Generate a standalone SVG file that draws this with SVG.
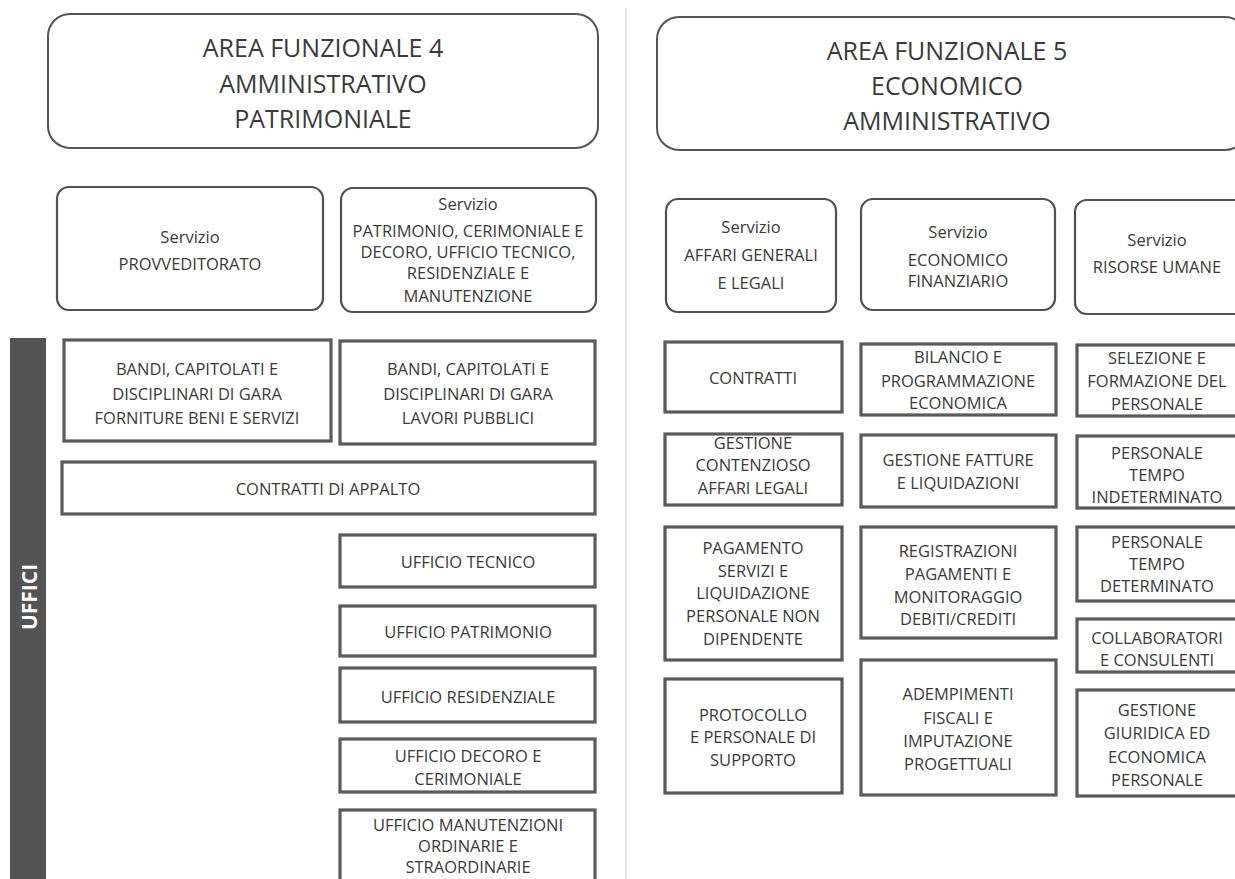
<svg xmlns="http://www.w3.org/2000/svg" width="1235" height="879" viewBox="0 0 1235 879">
<style>
.bg{fill:#ffffff}
.hdr{fill:#fff;stroke:#555;stroke-width:2}
.svc{fill:#fff;stroke:#505050;stroke-width:2.2}
.off{fill:#fff;stroke:#5a5a5a;stroke-width:3.2}
text{font-family:"Open Sans","Liberation Sans",sans-serif;fill:#3a3a3a;text-anchor:middle;dominant-baseline:central}
.h{font-size:25px}
.s{font-size:16.5px}
.o{font-size:16.5px}
.uf{font-size:21px;font-weight:bold;fill:#fff}
</style>
<rect class="bg" x="0" y="0" width="1235" height="879"/>
<line x1="626" y1="8" x2="626" y2="879" stroke="#dcdcdc" stroke-width="1.5"/>

<g id="uffici">
<rect x="10" y="338" width="36" height="541" fill="#545454"/>
<text class="uf" transform="translate(29,597) rotate(-90)">UFFICI</text>
</g>

<g id="area4">
<rect class="hdr" x="48" y="14" width="550" height="134" rx="22"/>
<text class="h" x="323" y="47">AREA FUNZIONALE 4</text>
<text class="h" x="323" y="83">AMMINISTRATIVO</text>
<text class="h" x="323" y="118">PATRIMONIALE</text>
</g>
<g id="area5">
<rect class="hdr" x="657" y="17" width="590" height="133" rx="22"/>
<text class="h" x="947" y="50">AREA FUNZIONALE 5</text>
<text class="h" x="947" y="85">ECONOMICO</text>
<text class="h" x="947" y="120">AMMINISTRATIVO</text>
</g>

<g id="svc-provveditorato">
<rect class="svc" x="57" y="187" width="266" height="123" rx="12"/>
<text class="s" x="190" y="236">Servizio</text>
<text class="s" x="190" y="263">PROVVEDITORATO</text>
</g>
<g id="svc-patrimonio">
<rect class="svc" x="341" y="188" width="255" height="124" rx="12"/>
<text class="s" x="468" y="203">Servizio</text>
<text class="s" x="468" y="230">PATRIMONIO, CERIMONIALE E</text>
<text class="s" x="468" y="251">DECORO, UFFICIO TECNICO,</text>
<text class="s" x="468" y="272">RESIDENZIALE  E</text>
<text class="s" x="468" y="295">MANUTENZIONE</text>
</g>
<g id="svc-affari">
<rect class="svc" x="666" y="199" width="170" height="113" rx="12"/>
<text class="s" x="751" y="226">Servizio</text>
<text class="s" x="751" y="254">AFFARI GENERALI</text>
<text class="s" x="751" y="282">E LEGALI</text>
</g>
<g id="svc-economico">
<rect class="svc" x="861" y="199" width="194" height="111" rx="12"/>
<text class="s" x="958" y="231">Servizio</text>
<text class="s" x="958" y="259">ECONOMICO</text>
<text class="s" x="958" y="280">FINANZIARIO</text>
</g>
<g id="svc-risorse">
<rect class="svc" x="1075" y="200" width="172" height="114" rx="12"/>
<text class="s" x="1157" y="239">Servizio</text>
<text class="s" x="1157" y="266">RISORSE UMANE</text>
</g>

<g id="o-bandi1">
<rect class="off" x="64" y="340" width="267" height="101"/>
<text class="o" x="197" y="368">BANDI, CAPITOLATI E</text>
<text class="o" x="197" y="393">DISCIPLINARI DI GARA</text>
<text class="o" x="197" y="417">FORNITURE BENI E SERVIZI</text>
</g>
<g id="o-bandi2">
<rect class="off" x="340" y="341" width="255" height="103"/>
<text class="o" x="468" y="368">BANDI, CAPITOLATI E</text>
<text class="o" x="468" y="393">DISCIPLINARI DI GARA</text>
<text class="o" x="468" y="417">LAVORI PUBBLICI</text>
</g>
<g id="o-appalto">
<rect class="off" x="62" y="462" width="533" height="52"/>
<text class="o" x="328" y="488">CONTRATTI DI APPALTO</text>
</g>
<g id="o-tecnico">
<rect class="off" x="340" y="535" width="255" height="52"/>
<text class="o" x="468" y="561">UFFICIO TECNICO</text>
</g>
<g id="o-patrimonio">
<rect class="off" x="340" y="606" width="255" height="50"/>
<text class="o" x="468" y="631">UFFICIO PATRIMONIO</text>
</g>
<g id="o-residenziale">
<rect class="off" x="340" y="668" width="255" height="54"/>
<text class="o" x="468" y="696">UFFICIO RESIDENZIALE</text>
</g>
<g id="o-decoro">
<rect class="off" x="340" y="739" width="255" height="53"/>
<text class="o" x="468" y="755">UFFICIO DECORO E</text>
<text class="o" x="468" y="778">CERIMONIALE</text>
</g>
<g id="o-manutenzioni">
<rect class="off" x="340" y="810" width="255" height="80"/>
<text class="o" x="468" y="824">UFFICIO MANUTENZIONI</text>
<text class="o" x="468" y="845">ORDINARIE E</text>
<text class="o" x="468" y="866">STRAORDINARIE</text>
</g>

<g id="o-contratti">
<rect class="off" x="665" y="342" width="177" height="70"/>
<text class="o" x="753" y="377">CONTRATTI</text>
</g>
<g id="o-contenzioso">
<rect class="off" x="665" y="434" width="177" height="71"/>
<text class="o" x="753" y="442">GESTIONE</text>
<text class="o" x="753" y="464">CONTENZIOSO</text>
<text class="o" x="753" y="487">AFFARI LEGALI</text>
</g>
<g id="o-pagamento">
<rect class="off" x="665" y="527" width="177" height="133"/>
<text class="o" x="753" y="547">PAGAMENTO</text>
<text class="o" x="753" y="570">SERVIZI E</text>
<text class="o" x="753" y="592">LIQUIDAZIONE</text>
<text class="o" x="753" y="615">PERSONALE NON</text>
<text class="o" x="753" y="638">DIPENDENTE</text>
</g>
<g id="o-protocollo">
<rect class="off" x="665" y="679" width="177" height="114"/>
<text class="o" x="753" y="714">PROTOCOLLO</text>
<text class="o" x="753" y="736">E PERSONALE DI</text>
<text class="o" x="753" y="759">SUPPORTO</text>
</g>

<g id="o-bilancio">
<rect class="off" x="861" y="344" width="195" height="71"/>
<text class="o" x="958" y="356">BILANCIO E</text>
<text class="o" x="958" y="380">PROGRAMMAZIONE</text>
<text class="o" x="958" y="402">ECONOMICA</text>
</g>
<g id="o-fatture">
<rect class="off" x="861" y="435" width="195" height="72"/>
<text class="o" x="958" y="459">GESTIONE FATTURE</text>
<text class="o" x="958" y="482">E LIQUIDAZIONI</text>
</g>
<g id="o-registrazioni">
<rect class="off" x="861" y="527" width="195" height="111"/>
<text class="o" x="958" y="550">REGISTRAZIONI</text>
<text class="o" x="958" y="573">PAGAMENTI E</text>
<text class="o" x="958" y="596">MONITORAGGIO</text>
<text class="o" x="958" y="618">DEBITI/CREDITI</text>
</g>
<g id="o-adempimenti">
<rect class="off" x="861" y="660" width="195" height="135"/>
<text class="o" x="958" y="693">ADEMPIMENTI</text>
<text class="o" x="958" y="717">FISCALI E</text>
<text class="o" x="958" y="740">IMPUTAZIONE</text>
<text class="o" x="958" y="763">PROGETTUALI</text>
</g>

<g id="o-selezione">
<rect class="off" x="1077" y="345" width="170" height="71"/>
<text class="o" x="1157" y="357">SELEZIONE E</text>
<text class="o" x="1157" y="380">FORMAZIONE DEL</text>
<text class="o" x="1157" y="403">PERSONALE</text>
</g>
<g id="o-indeterminato">
<rect class="off" x="1077" y="436" width="170" height="72"/>
<text class="o" x="1157" y="452">PERSONALE</text>
<text class="o" x="1157" y="474">TEMPO</text>
<text class="o" x="1157" y="496">INDETERMINATO</text>
</g>
<g id="o-determinato">
<rect class="off" x="1077" y="527" width="170" height="74"/>
<text class="o" x="1157" y="541">PERSONALE</text>
<text class="o" x="1157" y="563">TEMPO</text>
<text class="o" x="1157" y="585">DETERMINATO</text>
</g>
<g id="o-collaboratori">
<rect class="off" x="1077" y="619" width="170" height="53"/>
<text class="o" x="1157" y="637">COLLABORATORI</text>
<text class="o" x="1157" y="659">E CONSULENTI</text>
</g>
<g id="o-giuridica">
<rect class="off" x="1077" y="690" width="170" height="106"/>
<text class="o" x="1157" y="709">GESTIONE</text>
<text class="o" x="1157" y="732">GIURIDICA ED</text>
<text class="o" x="1157" y="756">ECONOMICA</text>
<text class="o" x="1157" y="779">PERSONALE</text>
</g>
</svg>
